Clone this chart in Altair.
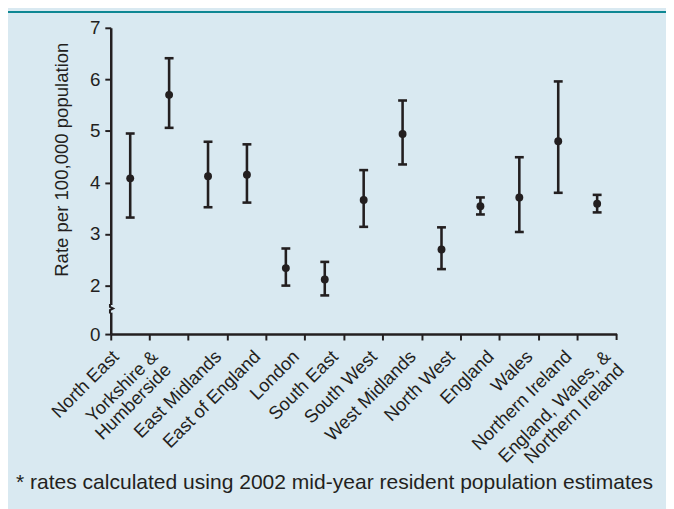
import altair as alt
import pandas as pd

regions = ["North East", "Yorkshire &|Humberside", "East Midlands", "East of England",
           "London", "South East", "South West", "West Midlands", "North West",
           "England", "Wales", "Northern Ireland", "England, Wales, &|Northern Ireland"]
rate = [4.08, 5.70, 4.12, 4.15, 2.34, 2.12, 3.66, 4.94, 2.70, 3.54, 3.71, 4.80, 3.59]
lower = [3.32, 5.06, 3.52, 3.61, 2.00, 1.81, 3.14, 4.35, 2.32, 3.38, 3.04, 3.80, 3.42]
upper = [4.95, 6.41, 4.79, 4.74, 2.72, 2.46, 4.24, 5.59, 3.13, 3.71, 4.49, 5.96, 3.76]
y_ticks = [1.06, 2, 3, 4, 5, 6, 7]

df = pd.DataFrame({"region": regions, "rate": rate, "lower": lower, "upper": upper})

BG = "#d9e9f1"
INK = "#231f20"
TEAL = "#0e8793"
FONT = "Liberation Sans"
W, H = 512, 310

xenc = alt.X("region:N", sort=regions, title=None,
             scale=alt.Scale(paddingInner=0, paddingOuter=0),
             axis=alt.Axis(bandPosition=0, labelAngle=-45, labelAlign="right", labelBaseline="top",
                           labelExpr="split(datum.label, '|')", labelLineHeight=19,
                           labelFontSize=18.5, labelFont=FONT, labelColor=INK,
                           labelOffset={"condition": {"test": "datum.value == 'North East' || datum.value == 'Yorkshire &|Humberside'", "value": -21}, "value": 4},
                           labelPadding=7, tickSize=6, tickWidth=2, tickColor=INK,
                           domainWidth=2.5, domainColor=INK, grid=False))

yscale = alt.Scale(domain=[1.06, 7], nice=False, zero=False)
yaxis = alt.Axis(values=y_ticks, labelExpr="datum.value < 1.5 ? '0' : format(datum.value, 'd')",
                 labelFontSize=19, labelFont=FONT, labelColor=INK, labelPadding=5,
                 tickSize=6, tickWidth=2, tickColor=INK, domainWidth=2.5, domainColor=INK,
                 grid=False, title="Rate per 100,000 population", titleFont=FONT,
                 titleFontSize=18.8, titleFontWeight="normal", titleColor=INK,
                 titleX=-50, titleY=133, titleAngle=270, titleAlign="center", titleBaseline="middle")

base = alt.Chart(df)

bars = base.mark_rule(color=INK, strokeWidth=2.6).encode(
    x=xenc, y=alt.Y("lower:Q", scale=yscale, axis=yaxis), y2="upper:Q")
caps_lo = base.mark_point(shape="M-1,0L1,0", size=81, filled=False, stroke=INK, strokeWidth=2.6, opacity=1).encode(
    x=alt.X("region:N", sort=regions), y=alt.Y("lower:Q"))
caps_hi = base.mark_point(shape="M-1,0L1,0", size=81, filled=False, stroke=INK, strokeWidth=2.6, opacity=1).encode(
    x=alt.X("region:N", sort=regions), y=alt.Y("upper:Q"))
dots = base.mark_circle(size=64, color=INK, opacity=1).encode(
    x=alt.X("region:N", sort=regions), y=alt.Y("rate:Q"))

brk_bg = alt.Chart(pd.DataFrame({"v": [1.55]})).mark_point(
    shape="square", size=60, filled=True, color=BG, opacity=1).encode(
    x=alt.value(0), y=alt.Y("v:Q", scale=yscale))
brk = alt.Chart(pd.DataFrame({"v": [1.55]})).mark_point(
    shape="M-0.2,-1.2L-0.2,-0.5L0.6,-0.1L-0.2,0.3L-0.2,1.2", size=64, filled=False,
    stroke=INK, strokeWidth=2, opacity=1).encode(
    x=alt.value(0), y=alt.Y("v:Q", scale=yscale))

end_tick = alt.Chart(pd.DataFrame({"a": [0]})).mark_rule(color=INK, strokeWidth=2).encode(
    x=alt.value(W), y=alt.value(H), y2=alt.value(H + 6))

top_line = alt.Chart(pd.DataFrame({"a": [0]})).mark_rule(color=TEAL, strokeWidth=2).encode(
    x=alt.value(-104), x2=alt.value(562), y=alt.value(-16))

note = alt.Chart(pd.DataFrame({"t": ["* rates calculated using 2002 mid-year resident population estimates"]})).mark_text(
    align="left", baseline="alphabetic", font=FONT, fontSize=21.3, color=INK).encode(
    text="t:N", x=alt.value(-96), y=alt.value(467))

chart = alt.layer(bars, caps_lo, caps_hi, dots, brk_bg, brk, end_tick, top_line, note).properties(
    width=W, height=H,
    autosize=alt.AutoSizeParams(type="none"),
    padding={"left": 104, "top": 17, "right": 50, "bottom": 174},
    background=BG,
).configure_view(stroke=None)

chart.save("out.html", embed_options={"renderer": "svg", "actions": False})
